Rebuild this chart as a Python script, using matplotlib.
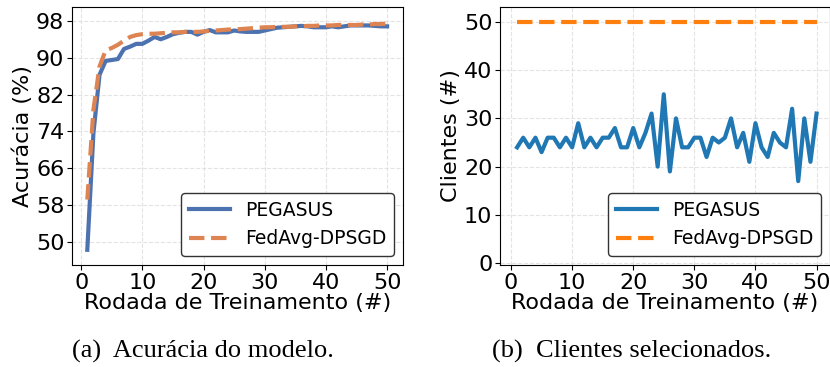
import numpy as np
import matplotlib
matplotlib.use("Agg")
from matplotlib import pyplot as plt

# rounds
rounds = list(range(1, 51))

# accuracy (%) per round
acc_pegasus = [48.3, 73.6, 86.3, 89.3, 89.5, 89.7, 91.9, 92.4, 93.0, 93.0,
               93.7, 94.5, 94.0, 94.5, 95.1, 95.4, 95.6, 95.6, 95.0, 95.6,
               96.0, 95.5, 95.5, 95.5, 95.9, 95.7, 95.6, 95.6, 95.6, 95.9,
               96.2, 96.5, 96.6, 96.7, 96.8, 96.9, 96.8, 96.6, 96.6, 96.6,
               96.8, 96.6, 96.8, 97.0, 97.0, 97.0, 97.0, 96.9, 96.8, 96.8]
acc_fedavg = [59.2, 78.7, 88.1, 91.6, 92.1, 92.8, 93.7, 94.5, 94.9, 95.1,
              95.2, 95.2, 95.3, 95.4, 95.5, 95.5, 95.6, 95.6, 95.6, 95.7,
              95.8, 95.9, 96.0, 96.1, 96.2, 96.2, 96.3, 96.4, 96.5, 96.6,
              96.6, 96.7, 96.7, 96.7, 96.8, 96.8, 96.9, 96.9, 97.0, 97.0,
              97.0, 97.1, 97.1, 97.1, 97.1, 97.2, 97.2, 97.3, 97.3, 97.4]

# selected clients per round
cli_pegasus = [24, 26, 24, 26, 23, 26, 26, 24, 26, 24,
               29, 24, 26, 24, 26, 26, 28, 24, 24, 28,
               24, 27, 31, 20, 35, 19, 30, 24, 24, 26,
               26, 22, 26, 25, 26, 30, 24, 27, 21, 29,
               24, 22, 27, 25, 24, 32, 17, 30, 21, 31]
cli_fedavg = [50] * 50

acc_ticks = [50, 58, 66, 74, 82, 90, 98]
cli_ticks = [0, 10, 20, 30, 40, 50]

fig = plt.figure(figsize=(8.3, 3.67), dpi=100)
W, H = 830, 367
ax1 = fig.add_axes([72 / W, 1 - 265 / H, 331 / W, 258 / H])
ax2 = fig.add_axes([500 / W, 1 - 265 / H, 330 / W, 258 / H])

# (a) accuracy
ax1.plot(rounds, acc_pegasus, color="#4c72b0", lw=3, label="PEGASUS")
ax1.plot(rounds, acc_fedavg, color="#dd8452", lw=3, ls="--", label="FedAvg-DPSGD")
ax1.set_ylim(45, 101)
ax1.set_yticks(acc_ticks)
ax1.set_xlim(-1.5, 52.6)
ax1.set_xticks([0, 10, 20, 30, 40, 50])
ax1.set_ylabel("Acurácia (%)", fontsize=16, labelpad=2)
ax1.set_xlabel("Rodada de Treinamento (#)", fontsize=16, labelpad=0)

# (b) clients
ax2.plot(rounds, cli_pegasus, color="#1f77b4", lw=3, label="PEGASUS")
ax2.plot(rounds, cli_fedavg, color="#ff7f0e", lw=3, ls="--", label="FedAvg-DPSGD")
ax2.set_ylim(-0.4, 53.1)
ax2.set_yticks(cli_ticks)
ax2.set_xlim(-1.8, 52.2)
ax2.set_xticks([0, 10, 20, 30, 40, 50])
ax2.set_ylabel("Clientes (#)", fontsize=16, labelpad=2)
ax2.set_xlabel("Rodada de Treinamento (#)", fontsize=16, labelpad=0)

for ax in (ax1, ax2):
    ax.grid(True, ls="--", color="#dddddd", lw=0.8, alpha=0.8)
    ax.tick_params(labelsize=16, pad=2)
    ax.legend(loc="lower right", fontsize=13.5, framealpha=1, edgecolor="#333333",
              borderaxespad=0.5, handlelength=2.2)

fig.text(203 / W, 1 - 351 / H, "(a)  Acurácia do modelo.", family="Liberation Serif",
         fontsize=19, ha="center", va="center")
fig.text(632 / W, 1 - 351 / H, "(b)  Clientes selecionados.", family="Liberation Serif",
         fontsize=19, ha="center", va="center")

fig.savefig("out.png", dpi=100)
